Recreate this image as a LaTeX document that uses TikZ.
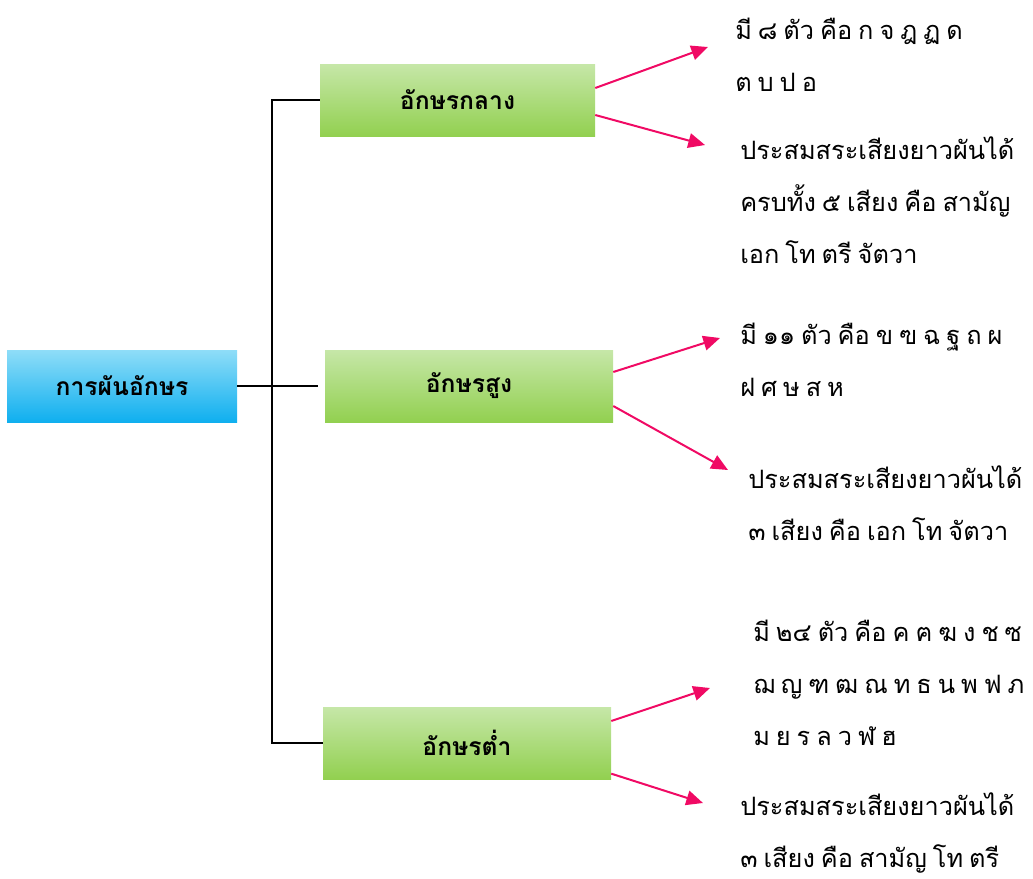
\documentclass[tikz,border=0pt]{standalone}
\usepackage{fontspec}
\newfontfamily\thaifont[Script=Thai,WordSpace=0.7]{Loma}
\usetikzlibrary{arrows.meta}
\definecolor{pinkline}{RGB}{240,10,100}
\definecolor{greentop}{RGB}{198,231,168}
\definecolor{greenbottom}{RGB}{146,208,80}
\definecolor{bluetop}{RGB}{143,221,248}
\definecolor{bluebottom}{RGB}{15,175,239}

\begin{document}
\begin{tikzpicture}[x=0.75pt,y=-0.75pt]
    \tikzstyle{every node}+=[inner sep=0pt]
    \tikzstyle{kindbox}=[minimum height=54pt, top color=greentop, bottom color=greenbottom, font=\thaifont\bfseries\fontsize{18.5}{20}\selectfont]
    \tikzstyle{rootbox}=[kindbox, top color=bluetop, bottom color=bluebottom]
    \tikzstyle{notetext}=[anchor=west, align=left, font=\thaifont\fontsize{19}{39}\selectfont]
    \tikzstyle{pointer}=[draw=pinkline, line width=1.5pt, -{Triangle[length=12.5pt,width=11pt]}]
    \useasboundingbox (0,0) rectangle (1033,879);
    \node [rootbox, minimum width=172.5pt] (root) at (122,386) {การผันอักษร};
    \node [kindbox, minimum width=206.25pt] (mid) at (457.5,100) {อักษรกลาง};
    \node [kindbox, minimum width=216pt] (high) at (469,386) {อักษรสูง};
    \node [kindbox, minimum width=216pt] (low) at (467,743) {อักษรต่ำ};
    \coordinate (trunk) at (272,386);
    \draw [black, line width=1.2pt] (mid.west) -| (trunk) |- (low.west);
    \draw [black, line width=1.2pt, shorten >=5.25pt] (root.east) -- (high.west);
    \node [notetext] (midcount) at (735,55) {มี ๘ ตัว คือ ก จ ฎ ฏ ด\\ต บ ป อ};
    \node [notetext] (midtone) at (740,200) {ประสมสระเสียงยาวผันได้\\ครบทั้ง ๕ เสียง คือ สามัญ\\เอก โท ตรี จัตวา};
    \node [notetext] (highcount) at (740,360) {มี ๑๑ ตัว คือ ข ฃ ฉ ฐ ถ ผ\\ฝ ศ ษ ส ห};
    \node [notetext] (hightone) at (748,503) {ประสมสระเสียงยาวผันได้\\๓ เสียง คือ เอก โท จัตวา};
    \node [notetext] (lowcount) at (753,683) {มี ๒๔ ตัว คือ ค ฅ ฆ ง ช ซ\\ฌ ญ ฑ ฒ ณ ท ธ น พ ฟ ภ\\ม ย ร ล ว ฬ ฮ};
    \node [notetext] (lowtone) at (740,833) {ประสมสระเสียงยาวผันได้\\๓ เสียง คือ สามัญ โท ตรี};
    \coordinate (midcountend) at (708,47);
    \coordinate (midtoneend) at (705,145);
    \coordinate (highcountend) at (720,338);
    \coordinate (hightoneend) at (728,470);
    \coordinate (lowcountend) at (710,688);
    \coordinate (lowtoneend) at (703,803);
    \draw [pointer] ([yshift=9pt]mid.east) -- (midcountend);
    \draw [pointer] ([yshift=-11.25pt]mid.east) -- (midtoneend);
    \draw [pointer] ([yshift=10.5pt]high.east) -- (highcountend);
    \draw [pointer] ([yshift=-15pt]high.east) -- (hightoneend);
    \draw [pointer] ([yshift=16.5pt]low.east) -- (lowcountend);
    \draw [pointer] ([yshift=-23pt]low.east) -- (lowtoneend);
\end{tikzpicture}
\end{document}
